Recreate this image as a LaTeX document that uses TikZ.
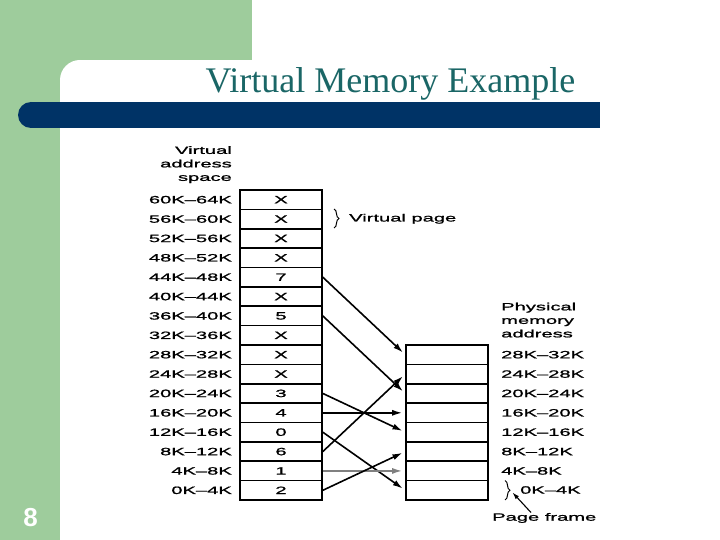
\documentclass[tikz,border=0pt]{standalone}
\usepackage{fontspec}
\setmainfont{Liberation Serif}
\newfontfamily\lbl[FakeStretch=1.9,FakeBold=1.2]{Liberation Sans}
\newfontfamily\numfont{Liberation Sans}
\usetikzlibrary{arrows.meta,decorations.pathreplacing}
\definecolor{slgreen}{RGB}{158,204,156}
\definecolor{slblue}{RGB}{0,51,102}
\definecolor{slteal}{RGB}{26,102,102}
\begin{document}
\begin{tikzpicture}[x=1pt,y=-1pt,
  cell/.style={draw, line width=1.6pt, minimum width=82pt, minimum height=19.375pt, inner sep=0pt, font=\lbl\fontsize{10.6}{12}\selectfont},
  lab/.style={inner sep=0pt, font=\lbl\fontsize{10.6}{12}\selectfont},
  head/.style={inner sep=0pt, font=\lbl\fontsize{10.6}{13.5}\selectfont},
  map/.style={line width=1.6pt, -{Latex[length=10pt,width=6pt]}, shorten >=3pt},
  bracket/.style={decorate, decoration={brace, amplitude=5pt}, line width=1pt}]
% background
\fill[white] (0,0) rectangle (720,540);
\fill[slgreen] (0,0) rectangle (252,540);
\fill[white] (80,60) rectangle (720,540);
\fill[white] (60,80) rectangle (80,540);
\fill[white] (80,80) circle[radius=20];
\fill[slblue] (31,102) rectangle (600,128);
\fill[slblue] (31,115) circle[radius=13];
\useasboundingbox (0,0) rectangle (720,540);
% title and page number
\node[slteal, inner sep=0pt, anchor=base, font=\fontsize{36}{40}\selectfont] (title) at (390.5,93) {Virtual Memory Example};
\node[white, inner sep=0pt, font=\numfont\bfseries\fontsize{26}{28}\selectfont] (num) at (30.5,517.5) {8};
% virtual address space
\node[head, anchor=north east, align=right] (vhead) at (232,146) {Virtual\\address\\space};
\foreach \v [count=\i from 0] in {X,X,X,X,7,X,5,X,X,X,3,4,0,6,1,2}
  \node[cell] (v\i) at (281,199.6875+19.375*\i) {\v};
\foreach \t [count=\i from 0] in {60K–64K,56K–60K,52K–56K,48K–52K,44K–48K,40K–44K,36K–40K,32K–36K,28K–32K,24K–28K,20K–24K,16K–20K,12K–16K,8K–12K,4K–8K,0K–4K}
  \node[lab, anchor=east] (vl\i) at (232,199.6875+19.375*\i) {\t};
% physical memory
\node[head, anchor=north west, align=left] (phead) at (501,302.5) {Physical\\memory\\address};
\foreach \i in {8,...,15}
  \node[cell] (p\i) at (447,199.6875+19.375*\i) {};
\foreach \t [count=\i from 8] in {28K–32K,24K–28K,20K–24K,16K–20K,12K–16K,8K–12K,4K–8K}
  \node[lab, anchor=west] (pl\i) at (501,199.6875+19.375*\i) {\t};
\node[lab, anchor=west] (pl15) at (520,490) {0K–4K};
% braces
\coordinate (vpa) at (334,209);
\coordinate (vpb) at (334,228);
\draw[bracket] (vpa) -- (vpb);
\node[lab, anchor=base west] (vp) at (349,221.5) {Virtual page};
\coordinate (pfa) at (505,480.5);
\coordinate (pfb) at (505,500);
\draw[bracket] (pfa) -- (pfb);
\node[lab, anchor=base west] (pf) at (492,520.7) {Page frame};
\coordinate (pfs) at (531,512.5);
\coordinate (pft) at (512.5,492.5);
\draw[line width=1.1pt, -{Latex[length=7pt,width=4.5pt]}] (pfs) -- (pft);
% mappings
\draw[map] (v4.east) -- (p8.west);
\draw[map] (v6.east) -- (p10.west);
\draw[map] (v10.east) -- (p12.west);
\draw[map] (v11.east) -- (p11.west);
\draw[map] (v12.east) -- (p15.west);
\draw[map] (v13.east) -- (p9.west);
\draw[map, gray] (v14.east) -- (p14.west);
\draw[map] (v15.east) -- (p13.west);
\end{tikzpicture}
\end{document}
